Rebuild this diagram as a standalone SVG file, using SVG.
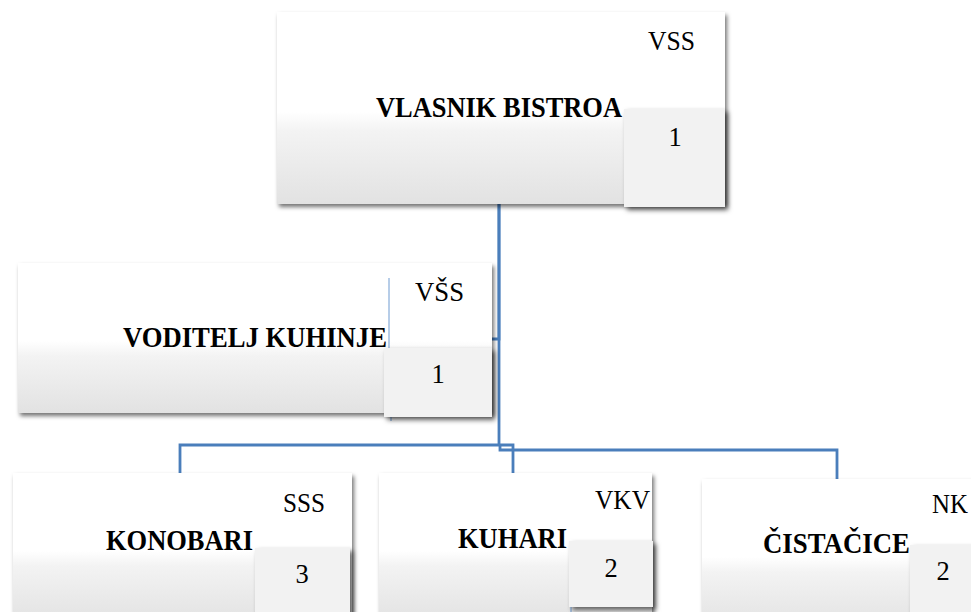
<svg xmlns="http://www.w3.org/2000/svg" width="971" height="612" viewBox="0 0 971 612">
<style>
.box{fill:url(#g);filter:url(#sh)}
.sm{fill:#f2f2f2;filter:url(#sh2)}
.b{font-family:"Liberation Serif","Times New Roman",serif;font-weight:bold;font-size:28.5px;fill:#000}
.r{font-family:"Liberation Serif","Times New Roman",serif;font-size:26.5px;fill:#000}
.c{text-anchor:middle}
.con{fill:none;stroke:#4a7ebb;stroke-width:2.8}
.thin{fill:none;stroke:#6f9bd1;stroke-width:1}
</style>
<defs>
<linearGradient id="g" x1="0" y1="0" x2="0" y2="1">
<stop offset="0" stop-color="#ffffff"/>
<stop offset="0.52" stop-color="#ffffff"/>
<stop offset="0.62" stop-color="#f3f3f3"/>
<stop offset="1" stop-color="#e2e2e2"/>
</linearGradient>
<filter id="sh" x="-5%" y="-5%" width="115%" height="120%">
<feDropShadow dx="2" dy="3" stdDeviation="2.2" flood-color="#000" flood-opacity="0.55"/>
</filter>
<filter id="sh2" x="-10%" y="-10%" width="130%" height="130%">
<feDropShadow dx="3" dy="3" stdDeviation="2.8" flood-color="#000" flood-opacity="0.6"/>
</filter>
</defs>
<rect width="971" height="612" fill="#fff"/>
<g id="connectors">
<path class="con" d="M499,204 V339 H492"/>
<path class="con" d="M499,204 V445 H180 V473"/>
<path class="con" d="M499,445 H513 V473"/>
<path class="con" d="M500,445 V450 H837 V479"/>
</g>
<g id="vlasnik">
<rect class="box" x="277" y="12" width="448" height="192"/>
<text class="r" x="648" y="50" textLength="47" lengthAdjust="spacingAndGlyphs">VSS</text>
<text class="b" x="376" y="117" textLength="246" lengthAdjust="spacingAndGlyphs">VLASNIK BISTROA</text>
<rect class="sm" x="624" y="109" width="101" height="98"/>
<text class="r c" x="675" y="146">1</text>
</g>
<g id="voditelj">
<rect class="box" x="18" y="263" width="474" height="150"/>
<line class="thin" x1="389" y1="278" x2="389" y2="348"/>
<line class="thin" x1="391" y1="415" x2="391" y2="421"/>
<text class="r" x="415" y="301" textLength="49" lengthAdjust="spacingAndGlyphs">VŠS</text>
<text class="b" x="123" y="347" textLength="264" lengthAdjust="spacingAndGlyphs">VODITELJ KUHINJE</text>
<rect class="sm" x="384" y="348" width="108" height="69"/>
<text class="r c" x="438" y="383">1</text>
</g>
<g id="konobari">
<rect class="box" x="13" y="473" width="339" height="150"/>
<text class="r" x="283" y="512" textLength="42" lengthAdjust="spacingAndGlyphs">SSS</text>
<text class="b" x="106" y="550" textLength="147" lengthAdjust="spacingAndGlyphs">KONOBARI</text>
<rect class="sm" x="255" y="548" width="95" height="75"/>
<text class="r c" x="302" y="583">3</text>
</g>
<g id="kuhari">
<rect class="box" x="379" y="473" width="273" height="150"/>
<line class="thin" x1="571" y1="606" x2="571" y2="612"/>
<text class="r" x="595" y="509" textLength="55" lengthAdjust="spacingAndGlyphs">VKV</text>
<text class="b" x="458" y="548" textLength="109" lengthAdjust="spacingAndGlyphs">KUHARI</text>
<rect class="sm" x="569" y="541" width="84" height="66"/>
<text class="r c" x="611" y="577">2</text>
</g>
<g id="cistacice">
<rect class="box" x="702" y="479" width="300" height="150"/>
<text class="r" x="932" y="513" textLength="36" lengthAdjust="spacingAndGlyphs">NK</text>
<text class="b" x="763" y="553" textLength="147" lengthAdjust="spacingAndGlyphs">ČISTAČICE</text>
<rect class="sm" x="910" y="545" width="90" height="75"/>
<text class="r c" x="943" y="580">2</text>
</g>
</svg>
